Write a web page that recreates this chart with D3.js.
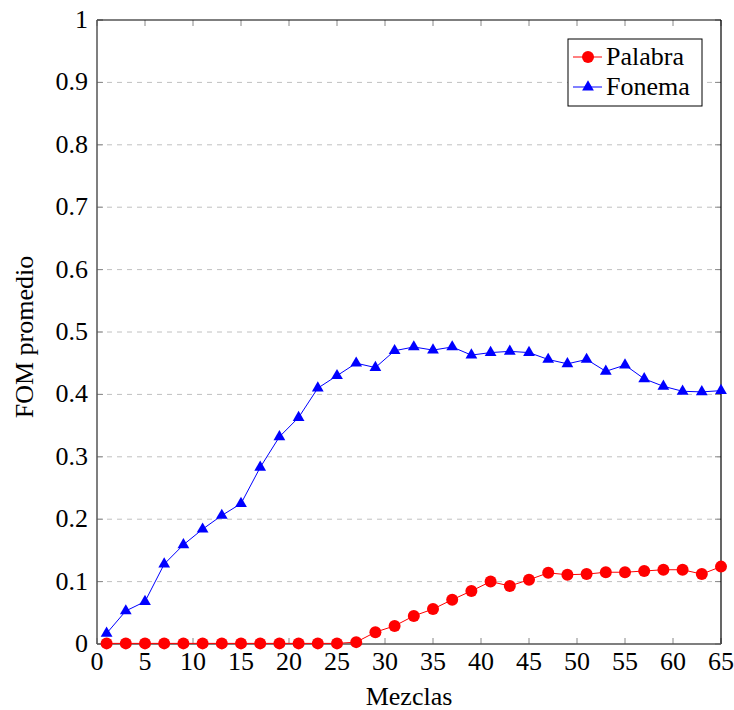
<!DOCTYPE html>
<html>
<head>
<meta charset="utf-8">
<script src="https://cdn.jsdelivr.net/npm/d3@7"></script>
<style>
  body { margin: 0; background: #fff; }
  svg { display: block; }
  text { font-family: "Liberation Serif", "DejaVu Serif", serif; fill: #000; }
</style>
</head>
<body>
<script>
const mezclas = [1,3,5,7,9,11,13,15,17,19,21,23,25,27,29,31,33,35,37,39,41,43,45,47,49,51,53,55,57,59,61,63,65];
const palabra = [0.001,0.001,0.001,0.001,0.001,0.001,0.001,0.001,0.001,0.001,0.001,0.001,0.001,0.003,0.019,0.029,0.045,0.056,0.071,0.085,0.100,0.093,0.103,0.114,0.111,0.112,0.115,0.115,0.117,0.119,0.119,0.112,0.124];
const fonema = [0.017,0.053,0.068,0.128,0.159,0.184,0.206,0.225,0.283,0.332,0.363,0.410,0.430,0.450,0.443,0.470,0.476,0.471,0.476,0.463,0.467,0.469,0.467,0.456,0.449,0.456,0.437,0.447,0.425,0.413,0.405,0.404,0.406];
const xTicks = [0,5,10,15,20,25,30,35,40,45,50,55,60,65];
const yTicks = [0,0.1,0.2,0.3,0.4,0.5,0.6,0.7,0.8,0.9,1];
const seriesNames = ["Palabra", "Fonema"];
const xLabel = "Mezclas";
const yLabel = "FOM promedio";

const W = 734, H = 710;
const L = 97, R = 721, T = 20, B = 644;
const fs = 26;

const svg = d3.select("body").append("svg").attr("width", W).attr("height", H);
const x = d3.scaleLinear().domain([0, 65]).range([L, R]);
const y = d3.scaleLinear().domain([0, 1]).range([B, T]);

// grid
svg.append("g").selectAll("line").data(yTicks.filter(d => d > 0 && d < 1)).join("line")
  .attr("x1", L).attr("x2", R).attr("y1", d => y(d)).attr("y2", d => y(d))
  .attr("stroke", "#c0c0c0").attr("stroke-width", 1).attr("stroke-dasharray", "5,5");

// ticks (inward, all sides)
const tk = 6;
const tg = svg.append("g").attr("stroke", "#888").attr("stroke-width", 1);
tg.selectAll(".bt").data(xTicks).join("line").attr("x1", d => x(d)).attr("x2", d => x(d)).attr("y1", B).attr("y2", B - tk);
tg.selectAll(".tt").data(xTicks).join("line").attr("x1", d => x(d)).attr("x2", d => x(d)).attr("y1", T).attr("y2", T + tk);
tg.selectAll(".lt").data(yTicks).join("line").attr("y1", d => y(d)).attr("y2", d => y(d)).attr("x1", L).attr("x2", L + tk);
tg.selectAll(".rt").data(yTicks).join("line").attr("y1", d => y(d)).attr("y2", d => y(d)).attr("x1", R).attr("x2", R - tk);

// frame
svg.append("line").attr("x1", L).attr("x2", R).attr("y1", T).attr("y2", T).attr("stroke", "#000").attr("stroke-width", 1.2);
svg.append("line").attr("x1", R).attr("x2", R).attr("y1", T).attr("y2", B).attr("stroke", "#000").attr("stroke-width", 1.2);
svg.append("line").attr("x1", L).attr("x2", L).attr("y1", T).attr("y2", B).attr("stroke", "#555").attr("stroke-width", 1.5);
svg.append("line").attr("x1", L).attr("x2", R).attr("y1", B).attr("y2", B).attr("stroke", "#555").attr("stroke-width", 1.5);

// tick labels
svg.append("g").selectAll("text").data(xTicks).join("text")
  .attr("x", d => x(d)).attr("y", B + 26).attr("text-anchor", "middle")
  .attr("font-size", fs).text(d => d);
svg.append("g").selectAll("text").data(yTicks).join("text")
  .attr("x", L - 9).attr("y", d => y(d) + 8).attr("text-anchor", "end")
  .attr("font-size", fs).text(d => d);

// axis labels
svg.append("text").attr("x", (L + R) / 2).attr("y", 705).attr("text-anchor", "middle").attr("font-size", fs).text(xLabel);
svg.append("text").attr("transform", `translate(33,${(T + B) / 2 + 5}) rotate(-90)`).attr("text-anchor", "middle").attr("font-size", fs).text(yLabel);

const line = d3.line().x(d => x(d[0])).y(d => y(d[1]));
const pData = mezclas.map((m, i) => [m, palabra[i]]);
const fData = mezclas.map((m, i) => [m, fonema[i]]);

const tri = d3.symbol().type(d3.symbolTriangle).size(60);

// Palabra
svg.append("path").datum(pData).attr("d", line).attr("fill", "none").attr("stroke", "#ff0000").attr("stroke-width", 1);
svg.append("g").selectAll("circle").data(pData).join("circle")
  .attr("cx", d => x(d[0])).attr("cy", d => y(d[1])).attr("r", 6).attr("fill", "#ff0000");

// Fonema
svg.append("path").datum(fData).attr("d", line).attr("fill", "none").attr("stroke", "#0000ff").attr("stroke-width", 1);
svg.append("g").selectAll("path.tri").data(fData).join("path")
  .attr("d", tri).attr("transform", d => `translate(${x(d[0])},${y(d[1])})`).attr("fill", "#0000ff");

// legend
const lg = svg.append("g");
lg.append("rect").attr("x", 568).attr("y", 39).attr("width", 134).attr("height", 67).attr("fill", "#fff").attr("stroke", "#000").attr("stroke-width", 1);
const ly = [57, 87];
const colors = ["#ff0000", "#0000ff"];
seriesNames.forEach((n, i) => {
  lg.append("line").attr("x1", 573).attr("x2", 602).attr("y1", ly[i]).attr("y2", ly[i]).attr("stroke", colors[i]).attr("stroke-width", 1);
  if (i === 0) lg.append("circle").attr("cx", 588).attr("cy", ly[i]).attr("r", 6).attr("fill", colors[i]);
  else lg.append("path").attr("d", tri).attr("transform", `translate(588,${ly[i]})`).attr("fill", colors[i]);
  lg.append("text").attr("x", 606).attr("y", ly[i] + 8).attr("font-size", fs).text(n);
});
</script>
</body>
</html>
